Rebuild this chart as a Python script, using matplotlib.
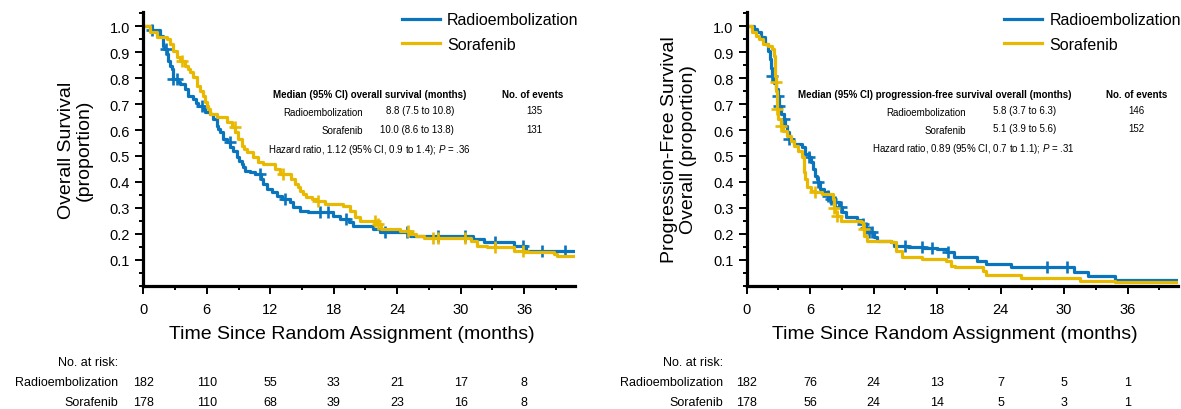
import numpy as np
import matplotlib
matplotlib.use('Agg')
import matplotlib.pyplot as plt
from matplotlib.ticker import MultipleLocator
from matplotlib.transforms import blended_transform_factory

plt.rcParams['font.family'] = ['Liberation Sans', 'DejaVu Sans']
plt.rcParams['mathtext.fontset'] = 'custom'
plt.rcParams['mathtext.it'] = 'Liberation Sans:italic'
plt.rcParams['mathtext.rm'] = 'Liberation Sans'

W, H = 1181, 410
BLUE = '#0a74bd'
GOLD = '#e9b800'
XMAX = 40.8

# ---- Overall survival (left panel) ----
os_re_t = [0, 0.8, 1.58, 1.9, 2.0, 2.2, 2.36, 2.55, 2.68, 2.84, 3.3, 3.47, 3.94, 4.25, 4.73,
           5.0, 5.2, 5.6, 5.83, 6.3, 6.6, 6.93, 7.1, 7.25, 7.56, 7.88, 8.2, 8.5, 8.82, 9.05,
           9.29, 9.45, 9.6, 10.08, 10.55, 11.1, 11.34, 11.66, 12.13, 12.6, 13.07, 13.86,
           14.18, 14.8, 15.6, 17.96, 18.6, 19.4, 19.85, 21.7, 22.37, 25.2, 31.2, 32.2, 35.0,
           36.2, 40.8]
os_re_s = [1.0, 0.987, 0.964, 0.925, 0.912, 0.893, 0.867, 0.845, 0.835, 0.797, 0.785, 0.777,
           0.758, 0.732, 0.72, 0.705, 0.694, 0.681, 0.668, 0.662, 0.643, 0.617, 0.604, 0.591,
           0.566, 0.553, 0.534, 0.521, 0.495, 0.482, 0.469, 0.456, 0.443, 0.437, 0.43, 0.411,
           0.392, 0.373, 0.36, 0.347, 0.334, 0.321, 0.302, 0.289, 0.282, 0.27, 0.257, 0.244,
           0.231, 0.218, 0.205, 0.193, 0.18, 0.17, 0.154, 0.135, 0.135]
os_re_cens = [0.8, 2.1, 2.84, 3.15, 5.51, 8.19, 11.03, 13.4, 16.7, 17.5, 19.2, 22.8, 24.9,
              27.9, 30.4, 33.2, 35.9, 37.7, 39.9]

os_so_t = [0, 0.63, 1.26, 2.2, 2.52, 2.84, 3.15, 3.5, 3.94, 4.2, 4.41, 4.73, 5.04, 5.36, 5.67,
           5.83, 6.0, 6.14, 6.3, 6.93, 7.88, 8.35, 8.7, 8.98, 9.29, 9.5, 9.77, 10.4, 10.87,
           11.34, 12.44, 12.9, 14.0, 14.34, 14.6, 14.8, 15.1, 15.4, 15.9, 16.3, 17.2, 18.9,
           19.5, 20.0, 20.5, 22.0, 22.5, 24.26, 25.2, 25.8, 26.5, 31.0, 31.5, 32.5, 35.0,
           36.0, 38.8, 39.1, 40.8]
os_so_s = [1.0, 0.977, 0.958, 0.951, 0.932, 0.906, 0.88, 0.865, 0.848, 0.835, 0.823, 0.803,
           0.771, 0.752, 0.733, 0.707, 0.694, 0.681, 0.662, 0.649, 0.63, 0.61, 0.591, 0.566,
           0.54, 0.527, 0.514, 0.495, 0.476, 0.469, 0.45, 0.43, 0.411, 0.392, 0.379, 0.366,
           0.353, 0.34, 0.334, 0.328, 0.315, 0.308, 0.289, 0.263, 0.25, 0.237, 0.218, 0.212,
           0.199, 0.193, 0.182, 0.171, 0.154, 0.147, 0.135, 0.128, 0.122, 0.115, 0.115]
os_so_cens = [3.62, 8.66, 13.2, 16.5, 21.9, 22.2, 25.0, 27.4, 27.9, 30.4, 33.2, 35.9]

# ---- Progression-free survival (right panel) ----
pfs_re_t = [0, 0.66, 1.0, 1.36, 1.71, 2.06, 2.23, 2.3, 2.4, 2.6, 2.76, 2.93, 3.1, 3.28, 3.53,
            3.63, 3.8, 3.98, 4.33, 4.5, 5.2, 5.55, 5.9, 6.08, 6.25, 6.42, 6.6, 6.77, 6.95,
            7.3, 7.65, 8.0, 8.35, 8.7, 9.04, 9.4, 10.46, 10.9, 11.25, 11.6, 12.0, 12.34, 13.6,
            13.9, 15.2, 16.8, 18.0, 18.9, 19.6, 21.8, 22.6, 25.0, 30.9, 32.3, 34.8, 40.8]
pfs_re_s = [1.0, 0.99, 0.977, 0.958, 0.932, 0.906, 0.874, 0.84, 0.81, 0.78, 0.758, 0.733,
            0.694, 0.662, 0.643, 0.617, 0.591, 0.566, 0.559, 0.546, 0.533, 0.508, 0.495,
            0.476, 0.45, 0.424, 0.41, 0.398, 0.373, 0.36, 0.347, 0.334, 0.321, 0.302, 0.283,
            0.263, 0.253, 0.237, 0.224, 0.205, 0.186, 0.173, 0.167, 0.154, 0.15, 0.145, 0.141,
            0.128, 0.109, 0.096, 0.083, 0.07, 0.051, 0.038, 0.021, 0.021]
pfs_re_cens = [2.4, 2.93, 3.1, 3.53, 3.98, 5.9, 6.77, 7.65, 8.0, 8.35, 8.9, 11.0, 11.25, 11.6,
               11.8, 15.0, 16.6, 17.5, 19.0, 28.4, 30.3]

pfs_so_t = [0, 0.49, 0.84, 1.19, 1.54, 2.06, 2.4, 2.58, 2.65, 2.7, 2.76, 2.8, 2.83, 2.88, 2.93,
            3.28, 3.46, 3.8, 4.16, 4.5, 4.85, 5.2, 5.38, 5.45, 5.55, 5.73, 6.08, 6.42, 7.12,
            8.17, 8.26, 8.35, 8.52, 8.9, 10.8, 11.0, 11.1, 11.4, 13.6, 14.1, 14.7, 16.6, 18.8,
            19.3, 19.7, 22.3, 22.6, 25.9, 31.5, 34.8, 40.8]
pfs_so_s = [1.0, 0.977, 0.964, 0.951, 0.932, 0.925, 0.912, 0.887, 0.848, 0.81, 0.784, 0.75,
            0.72, 0.68, 0.643, 0.617, 0.597, 0.578, 0.559, 0.54, 0.52, 0.495, 0.462, 0.44,
            0.411, 0.379, 0.366, 0.36, 0.353, 0.334, 0.30, 0.283, 0.27, 0.25, 0.244, 0.22,
            0.193, 0.173, 0.167, 0.135, 0.109, 0.103, 0.096, 0.077, 0.07, 0.057, 0.042, 0.029,
            0.019, 0.013, 0.013]
pfs_so_cens = [2.76, 2.88, 3.28, 6.42, 8.26, 8.52, 11.05]

# ---- number at risk ----
risk_times = [0, 6, 12, 18, 24, 30, 36]
os_risk_re = [182, 110, 55, 33, 21, 17, 8]
os_risk_so = [178, 110, 68, 39, 23, 16, 8]
pfs_risk_re = [182, 76, 24, 13, 7, 5, 1]
pfs_risk_so = [178, 56, 24, 14, 5, 3, 1]

groups = ['Radioembolization', 'Sorafenib']
os_medians = ['8.8 (7.5 to 10.8)', '10.0 (8.6 to 13.8)']
os_events = ['135', '131']
pfs_medians = ['5.8 (3.7 to 6.3)', '5.1 (3.9 to 5.6)']
pfs_events = ['146', '152']


def px(x):
    return x / W


def py(y):
    return 1 - y / H


def step_value(times, surv, t):
    i = np.searchsorted(times, t, side='right') - 1
    return surv[i]


def draw_panel(fig, left_px, curves):
    ax = fig.add_axes([px(left_px), py(286.6), px(XMAX * 10.58), 273.3 / H])
    for times, surv, cens, color, label in curves:
        ax.step(times, surv, where='post', color=color, lw=2.3, label=label)
        cy = [step_value(times, surv, c) for c in cens]
        ax.plot(cens, cy, ls='none', marker='+', ms=8.5, mew=1.9, color=color)
    ax.set_xlim(0, XMAX)
    ax.set_ylim(0, 1.054)
    for s in ['top', 'right']:
        ax.spines[s].set_visible(False)
    for s in ['left', 'bottom']:
        ax.spines[s].set_linewidth(2.3)
    ax.xaxis.set_major_locator(MultipleLocator(6))
    ax.xaxis.set_minor_locator(MultipleLocator(3))
    ax.set_yticks(np.arange(1, 11) / 10)
    ax.yaxis.set_minor_locator(MultipleLocator(0.05))
    ax.tick_params(which='major', length=5.5, width=1.4, labelsize=10.5, pad=4)
    ax.tick_params(axis='x', which='major', pad=6.5)
    ax.tick_params(which='minor', length=3, width=1.4)
    return ax


def add_legend(ax, fig, x_px):
    ax.legend(loc='upper left', bbox_to_anchor=(px(x_px), py(13.5)), bbox_transform=fig.transFigure,
              frameon=False, borderpad=0, borderaxespad=0, handlelength=2.4,
              handletextpad=0.45, labelspacing=0.58, fontsize=11.5)


def add_risk(ax, fig, label_x, row_re, row_so):
    trans = blended_transform_factory(ax.transData, fig.transFigure)
    fig.text(px(label_x), py(362.7), 'No. at risk:', ha='right', va='center', fontsize=9)
    for name, row, y in zip(groups, [row_re, row_so], [383.3, 403.3]):
        fig.text(px(label_x), py(y), name, ha='right', va='center', fontsize=9)
        for t, n in zip(risk_times, row):
            ax.text(t, py(y), str(n), transform=trans, ha='center', va='center', fontsize=9)


fig = plt.figure(figsize=(W / 100, H / 100), dpi=100)

# left: overall survival
ax1 = draw_panel(fig, 143.3, [
    (os_re_t, os_re_s, os_re_cens, BLUE, groups[0]),
    (os_so_t, os_so_s, os_so_cens, GOLD, groups[1]),
])
add_legend(ax1, fig, 401.7)
fig.text(px(75.5), py(150), 'Overall Survival\n(proportion)', rotation=90,
         ha='center', va='center', fontsize=14, linespacing=1.1)
fig.text(px(351.5), py(335), 'Time Since Random Assignment (months)',
         ha='center', va='center', fontsize=14)
fig.text(px(273.3), py(95), 'Median (95% CI) overall survival (months)',
         ha='left', va='center', fontsize=7, fontweight='bold')
fig.text(px(532.5), py(95), 'No. of events', ha='center', va='center', fontsize=7,
         fontweight='bold')
for name, med, ev, y in zip(groups, os_medians, os_events, [113, 131.5]):
    fig.text(px(362.7), py(y), name, ha='right', va='center', fontsize=7)
    fig.text(px(454), py(y - 1.5), med, ha='right', va='center', fontsize=7)
    fig.text(px(534), py(y - 1.5), ev, ha='center', va='center', fontsize=7)
fig.text(px(268.3), py(150), 'Hazard ratio, 1.12 (95% CI, 0.9 to 1.4); $\\it{P}$ = .36',
         ha='left', va='center', fontsize=7)
add_risk(ax1, fig, 118.3, os_risk_re, os_risk_so)

# right: progression-free survival
ax2 = draw_panel(fig, 746.7, [
    (pfs_re_t, pfs_re_s, pfs_re_cens, BLUE, groups[0]),
    (pfs_so_t, pfs_so_s, pfs_so_cens, GOLD, groups[1]),
])
add_legend(ax2, fig, 1004)
fig.text(px(679), py(150), 'Progression-Free Survival\nOverall (proportion)', rotation=90,
         ha='center', va='center', fontsize=14, linespacing=1.1)
fig.text(px(954.5), py(335), 'Time Since Random Assignment (months)',
         ha='center', va='center', fontsize=14)
fig.text(px(797.7), py(95), 'Median (95% CI) progression-free survival overall (months)',
         ha='left', va='center', fontsize=7, fontweight='bold')
fig.text(px(1136.3), py(95), 'No. of events', ha='center', va='center', fontsize=7,
         fontweight='bold')
for name, med, ev, y in zip(groups, pfs_medians, pfs_events, [113, 131.5]):
    fig.text(px(966.3), py(y), name, ha='right', va='center', fontsize=7)
    fig.text(px(992.7), py(y - 2.5), med, ha='left', va='center', fontsize=7)
    fig.text(px(1136), py(y - 2.5), ev, ha='center', va='center', fontsize=7)
fig.text(px(872), py(149.3), 'Hazard ratio, 0.89 (95% CI, 0.7 to 1.1); $\\it{P}$ = .31',
         ha='left', va='center', fontsize=7)
add_risk(ax2, fig, 722.7, pfs_risk_re, pfs_risk_so)

fig.savefig('out.png', dpi=100)
